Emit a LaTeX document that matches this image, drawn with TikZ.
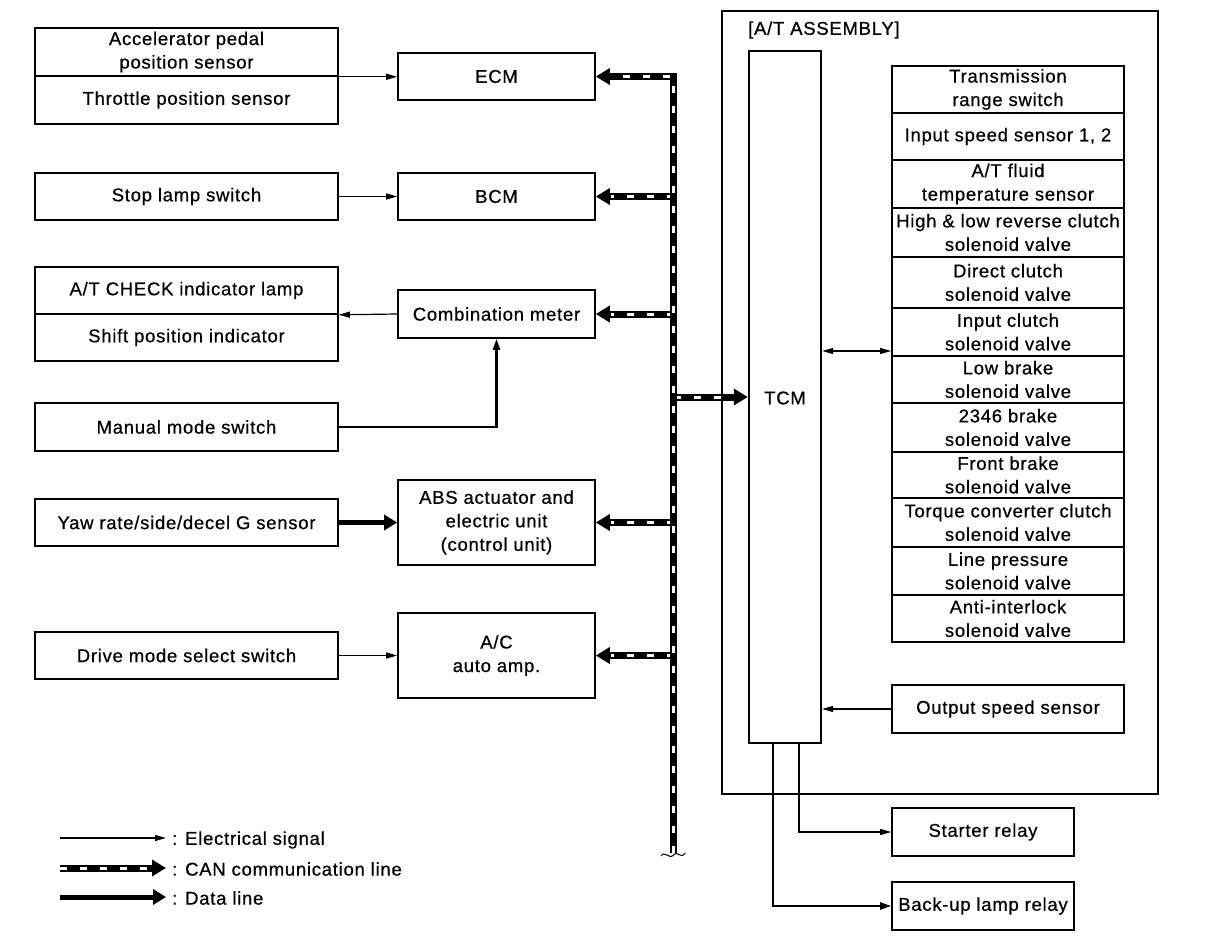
\documentclass[tikz,border=0pt]{standalone}
\usepackage{fontspec}
\setmainfont{Liberation Sans}[LetterSpace=4, FakeBold=0.6]
\usetikzlibrary{arrows.meta}
\begin{document}
\begin{tikzpicture}[x=1pt,y=-1pt,
  every node/.style={font=\fontsize{18.5pt}{23.5pt}\selectfont, align=center, inner sep=0pt},
  box/.style={draw, line width=1.6pt, minimum width=303pt, minimum height=48pt},
  mbox/.style={draw, line width=1.6pt, minimum width=197pt, minimum height=47pt},
  sbox/.style={draw, line width=1.8pt, minimum width=232pt},
  rbox/.style={draw, line width=1.6pt, minimum width=182pt, minimum height=48pt},
  sig/.style={line width=1.2pt, -{Triangle[length=11pt,width=6pt]}},
  sigthick/.style={line width=2.2pt, -{Triangle[length=11pt,width=7pt]}},
  dataline/.style={line width=5pt, -{Triangle[length=13pt,width=15pt]}},
  canline/.style={line width=7pt, draw=black, -{Triangle[length=14pt,width=16pt]},
    postaction={draw=white, line width=3pt, dash pattern=on 7pt off 13pt, -, shorten >=15pt}},
]
\useasboundingbox (0,0) rectangle (1216,944);

% left column
\node[box] (accel) at (186.5,52) {Accelerator pedal\\position sensor};
\node[box] (thr) at (186.5,100) {Throttle position sensor};
\node[box, minimum height=47pt] (stop) at (186.5,196.5) {Stop lamp switch};
\node[box, minimum height=47pt] (atcheck) at (186.5,290.5) {A/T CHECK indicator lamp};
\node[box, minimum height=47pt] (shift) at (186.5,337.5) {Shift position indicator};
\node[box] (manual) at (186.5,427) {Manual mode switch};
\node[box, minimum height=47pt] (yaw) at (186.5,522.5) {Yaw rate/side/decel G sensor};
\node[box, minimum height=47pt] (drive) at (186.5,655.5) {Drive mode select switch};

% middle column
\node[mbox] (ecm) at (496.5,76.5) {ECM};
\node[mbox] (bcm) at (496.5,196.5) {BCM};
\node[mbox, minimum height=48pt] (comb) at (496.5,314) {Combination meter};
\node[mbox, minimum height=85pt] (abs) at (496.5,522.5) {ABS actuator and\\electric unit\\(control unit)};
\node[mbox, minimum height=85pt] (ac) at (496.5,655.5) {A/C\\auto amp.};

% A/T assembly
\node[draw, line width=1.6pt, minimum width=436pt, minimum height=783pt] (asm) at (940,402.5) {};
\node[anchor=west] (asmlabel) at (748,30) {[A/T ASSEMBLY]};
\node[draw, line width=2.4pt, minimum width=72pt, minimum height=692pt] (tcm) at (785,397) {};
\node (tcmlabel) at (785,398) {TCM};

% stack
\node[sbox, minimum height=47pt] (trs) at (1008,89.5) {Transmission\\range switch};
\node[sbox, minimum height=47pt] (iss) at (1008,136.5) {Input speed sensor 1, 2};
\node[sbox, minimum height=48pt] (atf) at (1008,184) {A/T fluid\\temperature sensor};
\node[sbox, minimum height=49pt] (hlr) at (1008,232.5) {High \& low reverse clutch\\solenoid valve};
\node[sbox, minimum height=51pt] (dcs) at (1008,282.5) {Direct clutch\\solenoid valve};
\node[sbox, minimum height=48pt] (ics) at (1008,332) {Input clutch\\solenoid valve};
\node[sbox, minimum height=47pt] (lbs) at (1008,379.5) {Low brake\\solenoid valve};
\node[sbox, minimum height=49pt] (bk2346) at (1008,427.5) {2346 brake\\solenoid valve};
\node[sbox, minimum height=46pt] (fbs) at (1008,475) {Front brake\\solenoid valve};
\node[sbox, minimum height=49pt] (tcc) at (1008,522.5) {Torque converter clutch\\solenoid valve};
\node[sbox, minimum height=48pt] (lps) at (1008,571) {Line pressure\\solenoid valve};
\node[sbox, minimum height=47pt] (ail) at (1008,618.5) {Anti-interlock\\solenoid valve};

\node[box, minimum width=232pt, minimum height=48pt] (oss) at (1008,709) {Output speed sensor};
\node[rbox] (starter) at (983,832) {Starter relay};
\node[rbox] (backup) at (983,906) {Back-up lamp relay};

% coordinates
\coordinate (y351) at (0,351);
\coordinate (busbot) at (673.5,853);
\coordinate (bustop) at (673.5,76.5);
\coordinate (busbcm) at (673.5,196.5);
\coordinate (buscomb) at (673.5,314);
\coordinate (bustcm) at (673.5,397);
\coordinate (busabs) at (673.5,522.5);
\coordinate (busac) at (673.5,655.5);

% electrical signals
\draw[sig] (accel.south east) -- (accel.south east -| ecm.west);
\draw[sig] (stop.east) -- (bcm.west);
\draw[sig] (comb.west) -- (atcheck.south east);
\draw[sigthick] (manual.east) -| (comb.south);
\draw[dataline] (yaw.east) -- (abs.west);
\draw[sig] (drive.east) -- (ac.west);
\draw[line width=1.2pt, {Triangle[length=11pt,width=6pt]}-{Triangle[length=11pt,width=6pt]}] (tcm.east |- y351) -- (ics.west |- y351);
\draw[sig] (oss.west) -- (oss.west -| tcm.east);
\draw[sig] ([xshift=14pt]tcm.south) |- (starter.west);
\draw[sigthick] ([xshift=-12pt]tcm.south) |- (backup.west);

% CAN
\draw[canline] (busbcm) -- (bcm.east);
\draw[canline] (buscomb) -- (comb.east);
\draw[canline] (busabs) -- (abs.east);
\draw[canline] (busac) -- (ac.east);
\draw[canline] (bustcm) -- (tcm.west);
\draw[canline] (busbot) -- (bustop) -- (ecm.east);
\draw[line width=1pt] (661,856) .. controls (665,850) and (669,860) .. (673.5,855) .. controls (678,850) and (681,860) .. (685,853);

% legend
\coordinate (l1a) at (60,838); \coordinate (l1b) at (166,838);
\coordinate (l2a) at (60,868); \coordinate (l2b) at (166,868);
\coordinate (l3a) at (60,897); \coordinate (l3b) at (166,897);
\draw[sig] (l1a) -- (l1b);
\draw[canline] (l2a) -- (l2b);
\draw[dataline] (l3a) -- (l3b);
\node[anchor=west] (t1) at (172,840) {: Electrical signal};
\node[anchor=west] (t2) at (172,869) {: CAN communication line};
\node[anchor=west] (t3) at (172,898) {: Data line};
\end{tikzpicture}
\end{document}
